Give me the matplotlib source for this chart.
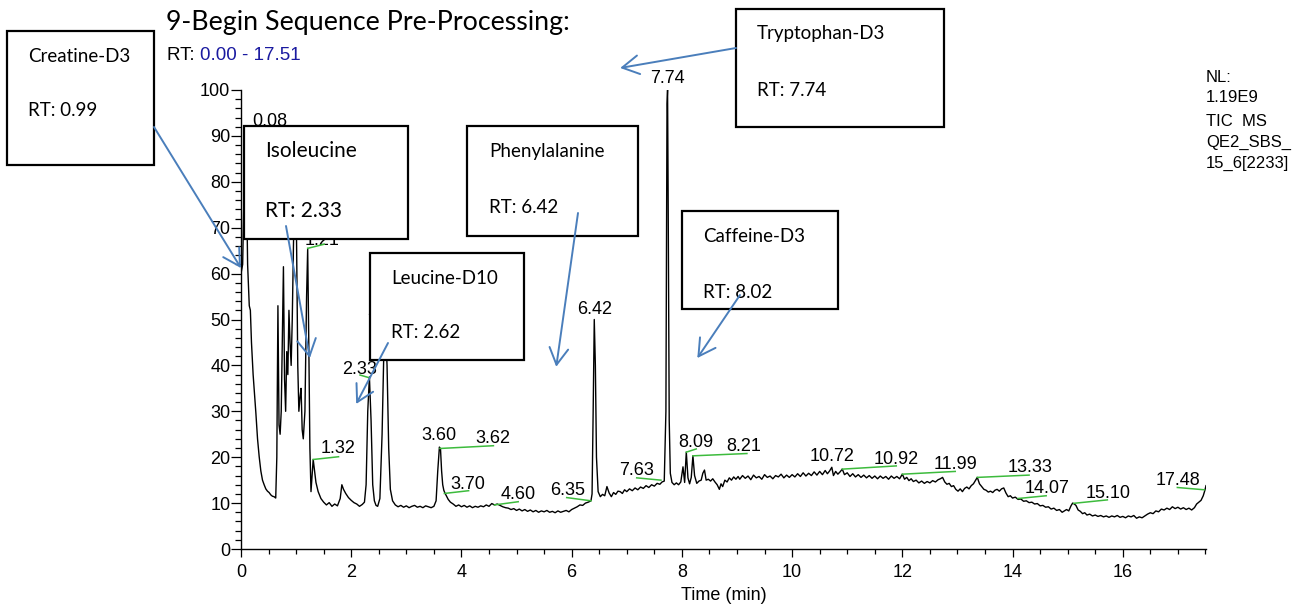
import matplotlib
matplotlib.use("Agg")
import matplotlib.pyplot as plt
from matplotlib.patches import Rectangle, ConnectionPatch
from matplotlib.ticker import MultipleLocator

# ---------------- data ----------------
rt_a = [0.00, 0.03, 0.05, 0.07, 0.08, 0.10, 0.12, 0.15, 0.17, 0.19, 0.22, 0.25, 0.27, 0.30,
        0.33, 0.36, 0.39, 0.42, 0.45, 0.48, 0.51, 0.54, 0.57, 0.60, 0.63, 0.65, 0.67, 0.69,
        0.71, 0.73, 0.75, 0.77, 0.79, 0.81, 0.83, 0.85, 0.87, 0.89, 0.91, 0.93, 0.96, 0.99,
        1.01, 1.03, 1.05, 1.07, 1.09, 1.11, 1.13, 1.16, 1.19, 1.21, 1.23, 1.25, 1.27, 1.29,
        1.31, 1.33, 1.36, 1.40, 1.45, 1.50, 1.55, 1.60, 1.65, 1.70, 1.75, 1.80, 1.83, 1.86,
        1.90, 1.95, 2.00, 2.05, 2.10, 2.15, 2.20, 2.24, 2.27, 2.30, 2.33, 2.36, 2.39, 2.42,
        2.45, 2.48, 2.52, 2.56, 2.59, 2.62, 2.65, 2.68, 2.71, 2.75]
int_a = [60, 62, 75, 88, 90.5, 80, 62, 53, 52, 45, 38, 33, 29.6, 24,
         20.1, 17, 15, 14, 13.1, 12.6, 12.3, 11.8, 11.5, 11.4, 11.1, 20, 53, 27,
         25, 30, 45, 61.5, 37, 30, 43, 38, 52, 45, 40, 50, 72, 85,
         65, 40, 30, 33, 35, 26, 24, 30, 55, 65.5, 45, 22, 12.5, 16,
         19.5, 17.5, 14.5, 12.5, 11, 10.2, 9.6, 10.1, 9.3, 9.8, 9.4, 11.0, 14.0, 13.0,
         12.1, 11.2, 10.6, 10.1, 9.8, 9.3, 9.7, 10.2, 14, 30, 37.5, 28, 14, 10.5,
         9.5, 9.3, 11, 25, 42, 49.5, 40, 22, 13, 10.5]

rt_b = [2.80, 2.85, 2.90, 2.95, 3.00, 3.05, 3.10, 3.15, 3.20, 3.25, 3.30, 3.35, 3.40, 3.45,
        3.50, 3.54, 3.57, 3.60, 3.62, 3.64, 3.66, 3.68, 3.70, 3.73, 3.76, 3.80, 3.85, 3.90,
        3.95, 4.00, 4.05, 4.10, 4.15, 4.20, 4.25, 4.30, 4.35, 4.40, 4.45, 4.50, 4.55, 4.60,
        4.65, 4.70, 4.75, 4.80, 4.85, 4.90, 4.95, 5.00, 5.05, 5.10, 5.15, 5.20, 5.25, 5.30,
        5.35, 5.40, 5.45, 5.50, 5.55, 5.60, 5.65, 5.70, 5.75, 5.80, 5.85, 5.90, 5.95, 6.00,
        6.05, 6.10, 6.15, 6.20, 6.25, 6.30, 6.35, 6.37, 6.39, 6.41, 6.43, 6.45, 6.48, 6.52,
        6.56, 6.60, 6.64, 6.68, 6.72, 6.76, 6.80, 6.84, 6.88, 6.92, 6.96, 7.00, 7.05, 7.10,
        7.15, 7.20, 7.25, 7.30, 7.35, 7.40, 7.45, 7.50, 7.55, 7.60, 7.64, 7.68, 7.71, 7.73,
        7.74, 7.75, 7.77]
int_b = [9.6, 9.2, 9.5, 9.1, 9.4, 9.0, 9.3, 9.5, 9.1, 9.3, 9.0, 9.4, 9.2, 9.0,
         9.3, 10.5, 17.0, 22.2, 21.8, 17.0, 14.0, 12.8, 12.2, 11.5, 10.8, 10.2, 9.8, 9.3,
         9.6, 9.2, 9.5, 9.1, 9.4, 9.0, 9.3, 9.1, 9.4, 9.2, 9.6, 9.3, 9.9, 9.6,
         9.8, 9.5, 9.2, 9.0, 8.9, 8.6, 8.8, 8.4, 8.7, 8.3, 8.6, 8.2, 8.5, 8.1,
         8.4, 8.0, 8.3, 8.1, 8.4, 8.0, 8.2, 7.9, 8.3, 8.0, 8.2, 8.4, 8.1, 8.6,
         8.9, 9.2, 9.6, 9.5, 10.0, 10.2, 10.5, 12, 30, 50, 40, 20, 12.5, 11.4,
         11.9, 11.6, 13.6, 12.2, 11.4, 12.3, 11.9, 12.6, 12.5, 12.1, 12.9, 12.5, 13.1, 12.7,
         13.3, 12.9, 13.5, 13.2, 13.8, 13.4, 14.0, 13.7, 14.3, 14.1, 14.6, 14.8, 30, 97,
         100, 78, 28]

rt_c = [7.79, 7.82, 7.86, 7.90, 7.94, 7.98, 8.02, 8.05, 8.08, 8.11, 8.14, 8.17, 8.20, 8.23,
        8.27, 8.31, 8.35, 8.38, 8.41, 8.44, 8.48, 8.52, 8.56, 8.60, 8.64, 8.68, 8.71, 8.74,
        8.78, 8.82, 8.86, 8.90, 8.94, 8.98, 9.02, 9.05, 9.10, 9.15, 9.20, 9.25, 9.30, 9.35,
        9.40, 9.45, 9.50, 9.55, 9.60, 9.65, 9.70, 9.75, 9.80, 9.85, 9.90, 9.95, 10.00, 10.05,
        10.10, 10.15, 10.20, 10.25, 10.30, 10.35, 10.40, 10.45, 10.50, 10.55, 10.60, 10.64,
        10.68, 10.72, 10.75, 10.79, 10.83, 10.87, 10.91, 10.95, 11.00, 11.05, 11.10, 11.15,
        11.20, 11.25, 11.30, 11.35, 11.40, 11.45, 11.50, 11.55, 11.60, 11.65, 11.70, 11.75,
        11.80, 11.85, 11.90, 11.95, 12.00, 12.04, 12.08, 12.12, 12.16, 12.20, 12.25, 12.30,
        12.35, 12.40, 12.45, 12.50, 12.55, 12.60, 12.65, 12.69, 12.73, 12.77, 12.81, 12.85,
        12.89, 12.93, 12.97, 13.01, 13.05, 13.09, 13.13, 13.17, 13.21, 13.25, 13.29, 13.33,
        13.36, 13.40, 13.44, 13.48, 13.52, 13.56, 13.60, 13.64, 13.68, 13.72, 13.76, 13.80,
        13.84, 13.88, 13.92, 13.96, 14.00, 14.05, 14.10, 14.15, 14.20, 14.25, 14.30, 14.35,
        14.40, 14.45, 14.50, 14.55, 14.60, 14.65, 14.70, 14.75, 14.80, 14.85, 14.90, 14.94,
        14.98, 15.02, 15.06, 15.09, 15.12, 15.15, 15.19, 15.23, 15.27, 15.31, 15.35, 15.40,
        15.45, 15.50, 15.55, 15.60, 15.65, 15.70, 15.75, 15.80, 15.85, 15.90, 15.95, 16.00,
        16.05, 16.10, 16.15, 16.20, 16.25, 16.30, 16.35, 16.40, 16.45, 16.50, 16.55, 16.60,
        16.65, 16.70, 16.75, 16.80, 16.85, 16.90, 16.95, 17.00, 17.05, 17.10, 17.15, 17.20,
        17.25, 17.30, 17.34, 17.38, 17.42, 17.46, 17.49, 17.51]
int_c = [16.5, 14.5, 14.0, 14.4, 14.0, 14.6, 17.9, 14.5, 21.1, 15.5, 14.2, 15.6, 20.3, 16.0,
         14.3, 14.8, 15.0, 16.5, 17.2, 15.0, 15.2, 14.8, 15.3, 14.6, 14.0, 13.0, 14.2, 13.6,
         15.0, 14.6, 15.5, 15.0, 15.7, 15.2, 15.8, 15.2, 16.0, 15.4, 15.9, 15.1, 16.1, 15.5,
         15.8, 15.2, 16.2, 15.6, 15.9, 15.3, 16.0, 15.7, 16.3, 15.5, 16.1, 15.6, 16.2, 15.7,
         16.4, 15.8, 16.6, 15.9, 16.5, 16.0, 16.8, 16.1, 16.9, 16.2, 17.1, 16.4,
         17.0, 17.8, 16.0, 16.9, 16.3, 16.8, 17.4, 16.2, 16.6, 15.8, 16.4, 15.7,
         16.2, 15.6, 16.1, 15.5, 16.0, 15.4, 15.9, 15.3, 15.9, 15.4, 15.8, 15.2,
         15.9, 15.4, 15.8, 15.3, 16.3, 15.2, 15.6, 14.9, 15.3, 14.7, 15.0, 14.4,
         14.8, 14.3, 14.7, 14.4, 14.9, 14.6, 15.1, 15.3, 15.6, 14.6, 14.1, 14.3,
         13.6, 13.8, 13.0, 12.6, 13.1, 12.5, 13.2, 13.5, 13.1, 13.8, 14.2, 15.0,
         15.6, 14.2, 13.6, 13.0, 12.8, 12.4, 12.6, 12.3, 12.8, 13.0, 12.6, 13.1,
         13.3, 12.2, 11.4, 11.6, 11.1, 11.3, 10.8, 10.9, 10.4, 10.5, 10.1, 10.2,
         9.8, 9.9, 9.4, 9.5, 9.1, 9.2, 8.7, 8.9, 8.4, 8.6, 8.0, 8.3,
         8.6, 8.3, 9.4, 10.0, 9.8, 9.5, 8.5, 8.2, 7.7, 7.9, 7.4, 7.6,
         7.2, 7.4, 7.1, 7.3, 7.0, 7.2, 6.9, 7.2, 7.0, 7.3, 6.9, 7.1,
         6.8, 7.2, 7.0, 7.3, 6.7, 7.0, 6.8, 7.2, 7.6, 7.9, 7.7, 8.3,
         8.1, 8.7, 8.5, 8.9, 8.6, 9.2, 8.8, 9.1, 8.7, 9.0, 8.6, 8.9,
         8.5, 9.0, 9.8, 10.2, 10.6, 11.6, 12.8, 13.8]

retention_time = rt_a + rt_b + rt_c
intensity = int_a + int_b + int_c

# peak labels: text, RT of the labelled point, its intensity
peak_labels = ["0.08", "1.21", "1.32", "2.33", "2.62", "3.60", "3.62", "3.70", "4.60",
               "6.35", "6.42", "7.63", "7.74", "8.09", "8.21", "10.72", "10.92", "11.99",
               "13.33", "14.07", "15.10", "17.48"]
peak_rt = [0.08, 1.21, 1.31, 2.33, 2.62, 3.60, 3.61, 3.69, 4.60, 6.35, 6.42, 7.62, 7.74,
           8.08, 8.20, 10.72, 10.91, 12.00, 13.36, 14.10, 15.11, 17.48]
peak_int = [90.5, 65.5, 19.5, 37.3, 49.5, 22.2, 21.9, 12.1, 9.6, 10.5, 50.0, 15.0, 100.0,
            21.1, 20.3, 17.8, 17.4, 16.3, 15.6, 11.0, 9.95, 12.9]

# callout boxes (compound name, RT)
compounds = ["Creatine-D3", "Isoleucine", "Leucine-D10", "Phenylalanine", "Tryptophan-D3", "Caffeine-D3"]
compound_rt = ["0.99", "2.33", "2.62", "6.42", "7.74", "8.02"]

nl_lines = ["NL:", "1.19E9", "TIC  MS", "QE2_SBS_", "15_6[2233]"]
title_text = "9-Begin Sequence Pre-Processing:"
rt_range = "0.00 - 17.51"
x_max = 17.51

# ---------------- layout / style ----------------
W, H, DPI = 1302, 606, 100
ARIAL = "Liberation Sans"
CALIBRI = ["Lato", "DejaVu Sans"]
GREEN = "#3dbb3d"
BLUE = "#4a7ebb"

# label positions (text centre, leader line end) in data coords
label_text_pos = [(0.53, 93.1), (1.47, 67.3), (1.77, 21.8), (2.16, 39.1), (2.60, 52.0),
                  (3.60, 24.8), (4.57, 24.0), (4.12, 14.1), (5.03, 11.8), (5.92, 12.7),
                  (6.41, 52.1), (7.17, 17.2), (7.73, 102.6), (8.26, 23.2), (9.13, 22.4),
                  (10.73, 20.1), (11.89, 19.6), (12.97, 18.4), (14.31, 17.8), (14.62, 13.2),
                  (15.74, 12.1), (17.00, 15.0)]
label_line_end = [None, (1.51, 66.4), (1.77, 20.1), (2.16, 37.9), None,
                  None, (4.58, 22.5), (4.13, 12.7), (5.03, 10.3), (5.91, 11.2),
                  None, (7.18, 15.5), None, (8.26, 21.8), (9.18, 20.8),
                  None, (11.89, 18.1), (12.96, 16.9), (14.30, 16.1), (14.61, 11.6),
                  (15.72, 10.7), (16.99, 13.4)]

# boxes in pixel coords: x0, y0, x1, y1 ; text left, name y, rt y ; arrow tail px ; arrow tip data
box_px = [(7, 31, 154, 165), (244, 126, 408, 239), (370, 253, 524, 360),
          (467, 126, 638, 236), (736, 9, 944, 127), (682, 211, 838, 309)]
box_text = [(28, 56, 111), (265, 151, 211), (391, 278, 333),
            (489, 152, 208), (757, 33, 91), (703, 236, 292)]
box_big = [False, True, False, False, False, False]
arrow_tail = [(154, 127), (286, 226), (388, 343), (578, 213), (736, 48), (740, 295)]
arrow_tip = [(0.0, 61.2), (1.25, 41.6), (2.09, 31.6), (5.72, 39.7), (6.88, 104.8), (8.28, 41.6)]


def fx(x):
    return x / W


def fy(y):
    return 1 - y / H


fig = plt.figure(figsize=(W / DPI, H / DPI), dpi=DPI)
fig.patch.set_facecolor("white")
ax = fig.add_axes([fx(241), fy(549), fx(1206) - fx(241), fy(90) - fy(549)])
ax.plot(retention_time, intensity, color="black", lw=1.0, zorder=3)
ax.set_xlim(0, x_max)
ax.set_ylim(0, 100)
for s in ["top", "right"]:
    ax.spines[s].set_visible(False)
for s in ["left", "bottom"]:
    ax.spines[s].set_linewidth(1.0)
ax.set_xticks(range(0, 17, 2))
ax.set_yticks(range(0, 101, 10))
ax.xaxis.set_minor_locator(MultipleLocator(0.5))
ax.yaxis.set_minor_locator(MultipleLocator(2))
ax.tick_params(axis="x", which="major", length=6, width=0.9, pad=5, labelsize=13)
ax.tick_params(axis="x", which="minor", length=3.5, width=0.9)
ax.tick_params(axis="y", which="major", length=7.2, width=0.9, pad=0.5, labelsize=13)
ax.tick_params(axis="y", which="minor", length=4, width=0.9)
for lab in ax.get_xticklabels() + ax.get_yticklabels():
    lab.set_fontfamily(ARIAL)
ax.set_xlabel("Time (min)", fontsize=13, fontfamily=ARIAL, va="center")
ax.xaxis.set_label_coords(0.5, -(596 - 549) / 459)

# peak labels with green leader lines
for txt, prt, pint, (tx, ty), le in zip(peak_labels, peak_rt, peak_int, label_text_pos, label_line_end):
    ax.text(tx, ty, txt, ha="center", va="center", fontsize=13, fontfamily=ARIAL,
            color="black", clip_on=False, zorder=4)
    if le is not None:
        ax.plot([prt, le[0]], [pint, le[1]], color=GREEN, lw=1.1, clip_on=False, zorder=4)

# title and info
renderer = fig.canvas.get_renderer()


def fit(t, target):
    w = t.get_window_extent(renderer).width
    t.set_fontsize(t.get_fontsize() * target / w)


tt = fig.text(fx(166), fy(30), title_text, ha="left", va="baseline", fontsize=18,
              fontfamily=CALIBRI)
fit(tt, 403)
t1 = fig.text(fx(167), fy(55), "RT: ", ha="left", va="center", fontsize=13.5, fontfamily=ARIAL)
w1 = t1.get_window_extent(renderer).width
fig.text(fx(167 + w1), fy(55), rt_range, ha="left", va="center", fontsize=13.5,
         fontfamily=ARIAL, color="#1a1aa0")

nl_y = [77, 98, 121, 142, 163]
for line, yy in zip(nl_lines, nl_y):
    fig.text(fx(1206), fy(yy), line, ha="left", va="center", fontsize=12, fontfamily=ARIAL)

# callout boxes and arrows
for name, rtv, (x0, y0, x1, y1), (tl, ny, ry), big, tail, tip in zip(
        compounds, compound_rt, box_px, box_text, box_big, arrow_tail, arrow_tip):
    rect = Rectangle((fx(x0), fy(y1)), fx(x1) - fx(x0), fy(y0) - fy(y1),
                     transform=fig.transFigure, facecolor="white", edgecolor="black",
                     lw=1.6, zorder=5)
    fig.add_artist(rect)
    a = fig.text(fx(tl), fy(ny), name, ha="left", va="center", fontsize=12,
                 fontfamily=CALIBRI, zorder=6)
    b = fig.text(fx(tl), fy(ry), "RT: " + rtv, ha="left", va="center", fontsize=12,
                 fontfamily=CALIBRI, zorder=6)
    fit(b, 77 if big else 69)
    a.set_fontsize(b.get_fontsize())
    cp = ConnectionPatch(xyA=(fx(tail[0]), fy(tail[1])), coordsA=fig.transFigure,
                         xyB=tip, coordsB=ax.transData,
                         arrowstyle="->,head_length=0.8,head_width=0.45",
                         mutation_scale=15, color=BLUE, lw=1.4, zorder=7)
    fig.add_artist(cp)

fig.savefig("out.png", dpi=DPI, facecolor="white")
